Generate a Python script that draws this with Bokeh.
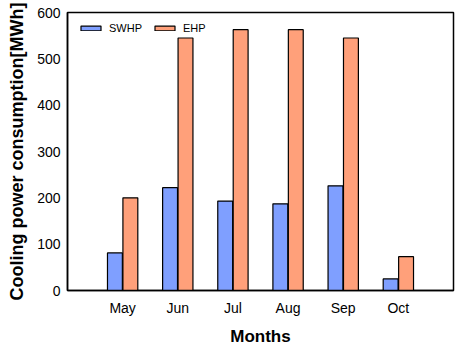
from bokeh.plotting import figure
from bokeh.models import ColumnDataSource, FixedTicker, Range1d, Legend, LegendItem
from bokeh.embed import file_html
from bokeh.resources import INLINE

months = ["May", "Jun", "Jul", "Aug", "Sep", "Oct"]
swhp = [81, 222, 193, 187, 226, 25]
ehp = [200, 545, 563, 563, 545, 73]

pos = list(range(1, len(months) + 1))
src = ColumnDataSource(dict(
    xs=[p - 0.14 for p in pos], xe=[p + 0.14 for p in pos],
    swhp=swhp, ehp=ehp))

p = figure(width=460, height=348, output_backend="svg", toolbar_location=None,
           x_range=Range1d(0, 7), y_range=Range1d(0, 600),
           min_border_left=67, min_border_right=7, min_border_top=12, min_border_bottom=20)
p.outline_line_color = "black"
p.outline_line_width = 1.5
p.grid.visible = False
p.background_fill_color = "white"

r1 = p.vbar(x="xs", top="swhp", width=0.27, source=src, fill_color="#7F9FFF",
            line_color="black", line_width=1.2)
r2 = p.vbar(x="xe", top="ehp", width=0.27, source=src, fill_color="#FFA07A",
            line_color="black", line_width=1.2)

p.xaxis.ticker = FixedTicker(ticks=pos)
p.xaxis.major_label_overrides = {p_: m for p_, m in zip(pos, months)}
p.yaxis.ticker = FixedTicker(ticks=[0, 100, 200, 300, 400, 500, 600])
for ax in (p.xaxis[0], p.yaxis[0]):
    ax.major_tick_line_color = None
    ax.minor_tick_line_color = None
    ax.major_tick_in = 0
    ax.major_tick_out = 0
    ax.axis_line_color = "black"
    ax.axis_line_width = 1.5
    ax.major_label_text_font = "Liberation Sans"
    ax.major_label_text_font_size = "14px"
    ax.major_label_text_color = "black"
    ax.axis_label_text_font = "Liberation Sans"
    ax.axis_label_text_font_style = "bold"
    ax.axis_label_text_color = "black"
p.xaxis.axis_label_text_font_size = "17px"
p.yaxis.axis_label_text_font_size = "18px"
p.xaxis.axis_label = "Months"
p.yaxis.axis_label = "Cooling power consumption[MWh]"
p.xaxis.major_label_standoff = 9
p.yaxis.major_label_standoff = 7
p.xaxis.axis_label_standoff = 8
p.yaxis.axis_label_standoff = 7

legend = Legend(items=[LegendItem(label="SWHP", renderers=[r1]),
                       LegendItem(label="EHP", renderers=[r2])],
                location=(11, 256), orientation="horizontal",
                label_text_font="Liberation Sans", label_text_font_size="11px",
                label_text_color="black",
                glyph_width=25, glyph_height=6, spacing=10, padding=0, margin=0,
                border_line_color=None, background_fill_alpha=0,
                label_standoff=6, label_height=13)
p.add_layout(legend)

open("out.html", "w").write(file_html(p, INLINE))
